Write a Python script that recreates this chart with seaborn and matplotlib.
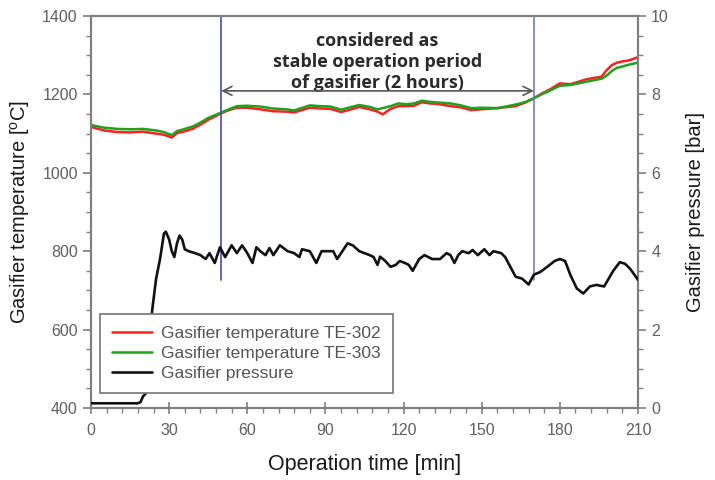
import numpy as np
import pandas as pd
import matplotlib
matplotlib.use("Agg")
import matplotlib.pyplot as plt
from matplotlib.ticker import MultipleLocator
from matplotlib.lines import Line2D
import seaborn as sns

# ---------------- data ----------------
t_temp = [0, 5, 10, 15, 20, 25, 28, 31, 33, 36, 39, 42, 45, 48, 50, 53, 56, 60, 65,
          70, 75, 78, 84, 88, 92, 96, 100, 103, 107, 110, 112, 115, 118, 121, 124,
          127, 130, 134, 138, 142, 146, 150, 156, 160, 163, 167, 170, 173, 176, 180,
          184, 187, 190, 193, 196, 198, 200, 202, 204, 206, 208, 210]
te303 = [1122, 1115, 1112, 1111, 1112, 1108, 1104, 1096, 1106, 1112, 1118, 1128, 1140,
         1148, 1154, 1162, 1170, 1171, 1169, 1164, 1162, 1159, 1172, 1170, 1169, 1161,
         1168, 1173, 1168, 1162, 1165, 1170, 1177, 1175, 1177, 1184, 1181, 1179, 1177,
         1172, 1165, 1166, 1165, 1170, 1174, 1181, 1190, 1200, 1209, 1222, 1224, 1228,
         1232, 1236, 1240, 1248, 1260, 1268, 1271, 1275, 1278, 1281]
te302 = [1117, 1108, 1104, 1103, 1105, 1100, 1097, 1090, 1101, 1106, 1112, 1123, 1135,
         1145, 1152, 1160, 1166, 1166, 1162, 1157, 1156, 1154, 1166, 1164, 1163, 1155,
         1162, 1168, 1162, 1156, 1149, 1163, 1170, 1170, 1171, 1180, 1177, 1175, 1170,
         1167, 1160, 1162, 1165, 1168, 1170, 1180, 1190, 1202, 1212, 1228, 1226, 1232,
         1238, 1242, 1245, 1262, 1275, 1281, 1284, 1286, 1290, 1295]

t_pres = [0, 18, 19, 20, 21.5, 22.5, 23.5, 25, 26.5, 28, 28.7, 30, 31, 32, 33, 34, 35,
          36, 37.5, 40, 42, 44, 45.5, 47.5, 49.5, 51.5, 54, 56, 58, 60, 62, 63.5, 65,
          67, 68.5, 70, 72.5, 75.5, 78, 80, 81, 84, 86.5, 88.5, 91, 93, 94.5, 96.5,
          98.5, 100.5, 103, 105, 107, 108.5, 110, 111, 113, 115, 117, 118.5, 120.5,
          122, 123.5, 126, 128, 131, 134, 136.5, 138, 139.5, 141, 142.5, 145, 146.5,
          148.5, 151, 153, 154.5, 157.5, 159, 161, 163, 165.5, 168, 170, 172.5, 175.5,
          178, 180, 182, 184, 186.5, 189, 191.5, 194, 197, 200.5, 203, 205, 207, 210]
pressure = [0.12, 0.12, 0.15, 0.3, 0.4, 1.5, 2.5, 3.3, 3.8, 4.45, 4.5, 4.3, 4.0, 3.85,
            4.2, 4.4, 4.3, 4.05, 4.0, 3.95, 3.9, 3.8, 3.95, 3.7, 4.1, 3.85, 4.15, 3.95,
            4.15, 3.95, 3.7, 4.1, 4.0, 3.9, 4.08, 3.9, 4.15, 4.0, 3.95, 3.85, 4.05, 4.0,
            3.7, 4.0, 4.0, 4.0, 3.8, 4.0, 4.2, 4.15, 4.0, 3.95, 3.9, 3.85, 3.65, 3.86,
            3.75, 3.6, 3.65, 3.75, 3.7, 3.65, 3.5, 3.8, 3.9, 3.8, 3.8, 3.95, 3.9, 3.7,
            3.9, 4.0, 3.95, 4.03, 3.9, 4.05, 3.9, 4.0, 3.95, 3.85, 3.6, 3.35, 3.3, 3.15,
            3.4, 3.47, 3.62, 3.75, 3.8, 3.75, 3.4, 3.05, 2.92, 3.1, 3.14, 3.1, 3.5, 3.72,
            3.68, 3.55, 3.27]

stable_start, stable_end = 50, 170
labels = ["Gasifier temperature TE-302", "Gasifier temperature TE-303", "Gasifier pressure"]
note = "considered as\nstable operation period\nof gasifier (2 hours)"

# ---------------- style ----------------
sns.set_style("ticks")
plt.rcParams['font.family'] = ['Liberation Sans', 'DejaVu Sans']
grey_axis = "#7f7f7f"
tick_col = "#606060"

fig = plt.figure(figsize=(7.15, 4.8), dpi=100)
ax = fig.add_axes([91/715, 1 - 408/480, (638-91)/715, (408-16)/480])
ax2 = ax.twinx()

df_t = pd.DataFrame({"t": t_temp, "TE302": te302, "TE303": te303})
df_p = pd.DataFrame({"t": t_pres, "p": pressure})

sns.lineplot(data=df_t, x="t", y="TE302", ax=ax, color="#ff2020", lw=1.8, zorder=3)
sns.lineplot(data=df_t, x="t", y="TE303", ax=ax, color="#1fa01f", lw=1.8, zorder=4)
sns.lineplot(data=df_p, x="t", y="p", ax=ax2, color="#111111", lw=1.9, zorder=3)

ax.set_xlim(0, 210)
ax.set_ylim(400, 1400)
ax2.set_ylim(0, 10)

ax.xaxis.set_major_locator(MultipleLocator(30))
ax.xaxis.set_minor_locator(MultipleLocator(6))
ax.yaxis.set_major_locator(MultipleLocator(200))
ax.yaxis.set_minor_locator(MultipleLocator(50))
ax2.yaxis.set_major_locator(MultipleLocator(2))
ax2.yaxis.set_minor_locator(MultipleLocator(0.5))

for a in (ax, ax2):
    for s in a.spines.values():
        s.set_color(grey_axis)
        s.set_linewidth(1.5)
    a.tick_params(which="major", length=6, width=1.2, color=grey_axis,
                  labelsize=11.5, labelcolor=tick_col)
    a.tick_params(which="minor", length=3.5, width=1.0, color=grey_axis)
ax.tick_params(axis="x", which="major", direction="inout", length=9, pad=6)
ax.tick_params(axis="x", which="minor", direction="out", length=3.5)

ax.set_xlabel("Operation time [min]", fontsize=15.5, color="#1a1a1a", labelpad=12)
ax.set_ylabel("Gasifier temperature [$^{\\mathregular{o}}$C]", fontsize=14.5,
              color="#1a1a1a", labelpad=7)
ax2.set_ylabel("Gasifier pressure [bar]", fontsize=14.5, color="#1a1a1a", labelpad=12)

# stable-period markers
ymin_frac = (727 - 400) / 1000
ax.axvline(stable_start, ymin=ymin_frac, ymax=1, color="#4a4aa8", lw=1.2, zorder=5)
ax.axvline(stable_end, ymin=ymin_frac, ymax=1, color="#7a7ac4", lw=1.2, zorder=5)
ax.annotate("", xy=(stable_start, 1209), xytext=(stable_end, 1209),
            arrowprops=dict(arrowstyle="<->", color="#555555", lw=1.2,
                            mutation_scale=16, shrinkA=0, shrinkB=0), zorder=6)
ax.text((stable_start + stable_end) / 2, 1282, note, ha="center", va="center",
        fontsize=13, fontweight="bold", color="#2a2a2a",
        family=["Open Sans", "DejaVu Sans"], linespacing=1.22)

handles = [Line2D([], [], color="#ff2020", lw=1.8),
           Line2D([], [], color="#1fa01f", lw=1.8),
           Line2D([], [], color="#111111", lw=1.9)]
leg = ax2.legend(handles, labels, loc="lower left", bbox_to_anchor=(0.016, 0.038),
                 fontsize=12.5, frameon=True, fancybox=False, framealpha=1,
                 edgecolor=grey_axis, handlelength=2.3, labelspacing=0.28,
                 borderpad=0.7, handletextpad=0.55, borderaxespad=0)
leg.get_frame().set_linewidth(1.3)
for txt in leg.get_texts():
    txt.set_color("#555555")

fig.savefig("out.png", dpi=100)
